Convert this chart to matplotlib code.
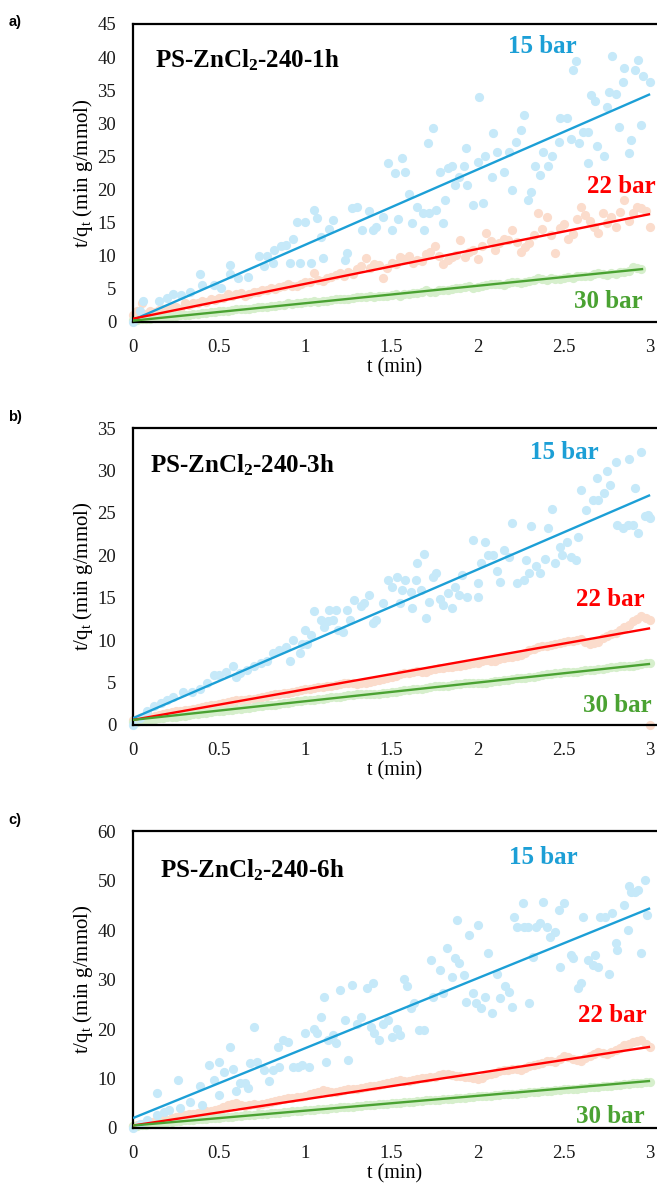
import matplotlib
matplotlib.use("Agg")
import matplotlib.pyplot as plt
from matplotlib.ticker import FuncFormatter


plt.rcParams["font.family"] = ["Liberation Serif", "DejaVu Serif"]
plt.rcParams["mathtext.fontset"] = "custom"
plt.rcParams["mathtext.rm"] = "Liberation Serif"
plt.rcParams["mathtext.it"] = "Liberation Serif:italic"
plt.rcParams["mathtext.bf"] = "Liberation Serif:bold"

# colores de las series (15, 22 y 30 bar)
AZUL, AZUL_CLARO = "#1c9fd6", "#c6e9f9"
ROJO, ROJO_CLARO = "#ff0000", "#fbdccc"
VERDE, VERDE_CLARO = "#4aa232", "#d6efcc"

# mallas de tiempo (min) de las series de 22 y 30 bar
T_MALLA = [0.00, 0.05, 0.10, 0.15, 0.20, 0.25, 0.30, 0.35, 0.40, 0.45,
           0.50, 0.55, 0.60, 0.65, 0.70, 0.75, 0.80, 0.85, 0.90, 0.95,
           1.00, 1.05, 1.10, 1.15, 1.20, 1.25, 1.30, 1.35, 1.40, 1.45,
           1.50, 1.55, 1.60, 1.65, 1.70, 1.75, 1.80, 1.85, 1.90, 1.95,
           2.00, 2.05, 2.10, 2.15, 2.20, 2.25, 2.30, 2.35, 2.40, 2.45,
           2.50, 2.55, 2.60, 2.65, 2.70, 2.75, 2.80, 2.85, 2.90, 2.95, 3.00]
T_MEDIA = [0.025, 0.075, 0.125, 0.175, 0.225, 0.275, 0.325, 0.375, 0.425, 0.475,
           0.525, 0.575, 0.625, 0.675, 0.725, 0.775, 0.825, 0.875, 0.925, 0.975,
           1.025, 1.075, 1.125, 1.175, 1.225, 1.275, 1.325, 1.375, 1.425, 1.475,
           1.525, 1.575, 1.625, 1.675, 1.725, 1.775, 1.825, 1.875, 1.925, 1.975,
           2.025, 2.075, 2.125, 2.175, 2.225, 2.275, 2.325, 2.375, 2.425, 2.475,
           2.525, 2.575, 2.625, 2.675, 2.725, 2.775, 2.825, 2.875, 2.925, 2.975]

# ---------------- a) PS-ZnCl2-240-1h ----------------
T15_A = [0.00, 0.04, 0.06, 0.15, 0.20, 0.23, 0.28, 0.33, 0.39, 0.40,
         0.47, 0.51, 0.56, 0.56, 0.61, 0.67, 0.73, 0.76, 0.78, 0.81,
         0.82, 0.86, 0.89, 0.91, 0.93, 0.95, 0.97, 1.00, 1.03, 1.05,
         1.07, 1.09, 1.10, 1.14,
         1.16, 1.23, 1.24, 1.27, 1.30, 1.33, 1.37, 1.39, 1.41, 1.45,
         1.48, 1.50, 1.52, 1.54, 1.56, 1.58, 1.60, 1.62, 1.65, 1.68,
         1.69, 1.71, 1.72, 1.74, 1.76, 1.78, 1.80, 1.81, 1.83, 1.85,
         1.87, 1.89, 1.92, 1.93, 1.94, 1.97, 2.00, 2.01, 2.03, 2.04,
         2.08, 2.09, 2.11, 2.15, 2.18, 2.20, 2.22, 2.25, 2.27, 2.29,
         2.31, 2.33, 2.36, 2.38, 2.41, 2.43, 2.47, 2.48, 2.52, 2.54,
         2.55, 2.57, 2.59, 2.61, 2.64, 2.64, 2.66, 2.68, 2.69, 2.73,
         2.75, 2.76, 2.78, 2.80, 2.82, 2.84, 2.85, 2.88, 2.89, 2.91,
         2.93, 2.95, 2.96, 3.00]
Y15_A = [0.0, 1.6, 3.1, 3.1, 3.6, 4.3, 4.1, 4.6, 7.3, 5.6,
         5.6, 5.1, 8.6, 7.3, 6.6, 6.8, 9.9, 8.4, 9.9, 8.9,
         10.9, 11.4, 11.6, 8.9, 12.6, 15.1, 8.9, 15.1, 8.9, 16.9,
         15.7, 12.9, 9.6, 14.1,
         15.4, 9.4, 10.4, 17.2, 17.4, 13.9, 16.7, 13.9, 14.4, 15.9,
         24.0, 13.9, 22.5, 15.6, 24.7, 22.7, 19.4, 14.9, 17.4, 16.4,
         13.9, 27.0, 16.4, 29.3, 16.9, 22.7, 14.9, 18.4, 23.2, 23.5,
         20.7, 21.9, 23.5, 26.2, 20.7, 17.7, 24.2, 33.9, 17.9, 25.0,
         21.9, 28.5, 25.7, 22.7, 25.7, 19.9, 27.2, 29.0, 31.3, 18.4,
         19.7, 23.5, 22.2, 25.7, 23.5, 25.0, 27.2, 30.8, 30.8, 27.7,
         38.1, 39.4, 27.0, 28.7, 28.7, 24.0, 34.3, 33.3, 26.5, 25.0,
         32.5, 34.8, 40.1, 34.5, 29.5, 36.3, 38.3, 25.5, 27.5, 38.1,
         39.6, 29.8, 37.1, 36.2]
Y22_A = [1.0, 2.8, 1.6, 1.8, 2.0, 2.3, 2.9, 2.8, 3.2, 3.5,
         3.6, 4.2, 4.3, 4.0, 4.6, 4.9, 5.2, 5.3, 5.7, 5.4,
         6.0, 7.4, 6.2, 6.8, 7.4, 7.6, 8.0, 9.6, 8.8, 6.6,
         8.9, 9.8, 10.0, 9.4, 10.2, 11.4, 8.8, 9.8, 12.4, 10.6,
         9.5, 13.4, 10.8, 12.6, 13.9, 10.6, 12.0, 16.4, 15.8, 10.4,
         14.8, 13.3, 17.4, 15.2, 13.5, 15.0, 14.4, 18.4, 16.5, 17.2, 14.4]
Y22_A_MEDIA = [1.6, 1.2, 1.5, 1.9, 2.2, 2.0, 2.6, 2.9, 3.0, 3.3,
               3.6, 3.9, 4.4, 4.3, 4.5, 4.8, 5.0, 5.5, 5.4, 5.8,
               6.0, 6.4, 6.6, 7.1, 7.0, 7.2, 8.4, 8.1, 8.6, 8.2,
               8.7, 9.5, 8.9, 9.2, 10.6, 9.9, 9.4, 10.1, 9.8, 10.8,
               11.5, 12.3, 11.9, 12.4, 12.1, 11.3, 13.2, 14.0, 13.1, 14.2,
               12.5, 15.6, 16.2, 14.4, 16.4, 15.8, 16.6, 15.3, 17.3, 16.8]
Y30_A = [0.3, 0.4, 0.5, 0.7, 0.8, 0.9, 1.0, 1.2, 1.3, 1.5,
         1.6, 1.7, 1.9, 2.0, 2.1, 2.3, 2.4, 2.5, 2.8, 2.8,
         3.0, 3.2, 3.1, 3.3, 3.5, 3.4, 3.7, 3.8, 3.7, 4.0,
         4.1, 4.0, 4.3, 4.4, 4.8, 4.6, 4.9, 5.0, 5.2, 5.5,
         5.3, 5.6, 5.8, 5.6, 6.0, 5.9, 6.2, 6.7, 6.4, 6.5,
         6.7, 6.6, 6.9, 7.0, 7.4, 7.1, 7.3, 7.6, 8.3, 8.0]
Y30_A_MEDIA = [0.3, 0.5, 0.6, 0.7, 0.9, 1.0, 1.1, 1.2, 1.4, 1.5,
               1.6, 1.8, 1.9, 2.0, 2.2, 2.3, 2.4, 2.6, 2.7, 2.9,
               3.0, 3.0, 3.2, 3.4, 3.4, 3.6, 3.7, 3.9, 3.9, 4.0,
               4.2, 4.2, 4.4, 4.6, 4.6, 4.8, 4.9, 5.1, 5.3, 5.2,
               5.5, 5.7, 5.7, 5.9, 6.0, 6.1, 6.3, 6.5, 6.6, 6.5,
               6.8, 6.9, 7.0, 7.2, 7.2, 7.4, 7.5, 7.7, 8.1]
# rectas de ajuste: (t inicial, t final), (y inicial, y final)
AJUSTE_A = {"15": ([0.0, 3.0], [0.3, 34.4]),
            "22": ([0.0, 3.0], [0.5, 16.3]),
            "30": ([0.0, 2.96], [0.2, 8.0])}

# ---------------- b) PS-ZnCl2-240-3h ----------------
T15_B = [0.00, 0.04, 0.08, 0.12, 0.16, 0.20, 0.23, 0.29, 0.34, 0.39,
         0.43, 0.47, 0.50, 0.54, 0.58, 0.60, 0.62, 0.66, 0.70, 0.74,
         0.78, 0.81, 0.85, 0.89, 0.91, 0.93, 0.97, 0.98, 1.01, 1.00,
         1.03, 1.05, 1.09, 1.11, 1.13, 1.14,
         1.16, 1.18, 1.19, 1.22, 1.24, 1.26, 1.28, 1.32, 1.34, 1.37,
         1.39, 1.41, 1.45, 1.48, 1.50, 1.53, 1.55, 1.56, 1.58, 1.61,
         1.62, 1.64, 1.65, 1.67, 1.69, 1.70, 1.72, 1.74, 1.76, 1.78,
         1.80, 1.83, 1.85, 1.87, 1.89, 1.91, 1.94, 1.97, 2.00, 2.00,
         2.02, 2.04, 2.06, 2.09, 2.11, 2.13, 2.15, 2.18, 2.20, 2.23,
         2.27, 2.28, 2.30, 2.31, 2.34, 2.36, 2.39, 2.41, 2.43, 2.45,
         2.48, 2.49, 2.52, 2.54, 2.57, 2.58, 2.60, 2.63, 2.67, 2.69,
         2.70, 2.73, 2.75, 2.77, 2.80, 2.81, 2.84, 2.87, 2.88, 2.90,
         2.91, 2.93, 2.95, 2.97, 2.99, 3.00]
Y15_B = [0.0, 0.8, 1.6, 2.2, 2.6, 3.0, 3.3, 3.9, 3.9, 4.3,
         4.9, 5.9, 5.9, 6.3, 6.9, 5.7, 6.1, 6.5, 6.9, 7.3,
         7.5, 8.5, 8.8, 9.2, 7.5, 10.0, 8.5, 9.6, 9.6, 11.2,
         10.6, 13.4, 12.4, 11.6, 12.2, 13.6,
         12.4, 13.6, 11.2, 11.0, 13.6, 12.4, 14.7, 14.0, 14.4, 15.3,
         12.0, 12.4, 14.4, 17.1, 16.3, 17.5, 14.4, 15.9, 17.1, 15.7,
         13.8, 17.1, 19.1, 15.9, 20.2, 12.6, 14.5, 17.5, 17.9, 14.9,
         14.1, 15.5, 13.8, 16.3, 15.3, 17.7, 15.1, 21.8, 15.1, 16.7,
         19.1, 21.6, 20.0, 20.0, 18.1, 16.9, 20.6, 19.8, 23.8, 16.7,
         17.1, 19.4, 17.9, 23.4, 18.7, 17.9, 19.6, 23.2, 25.5, 19.1,
         21.0, 20.0, 21.6, 19.8, 19.4, 22.2, 27.7, 25.3, 26.5, 29.1,
         26.5, 27.3, 29.9, 28.3, 31.0, 23.6, 23.2, 23.6, 31.4, 23.6,
         27.9, 22.6, 32.2, 24.6, 24.8, 24.4]
Y22_B = [0.6, 0.9, 1.0, 1.2, 1.4, 1.6, 1.8, 1.9, 2.1, 2.4,
         2.5, 2.7, 2.9, 3.0, 3.1, 3.3, 3.5, 3.6, 3.8, 4.0,
         4.2, 4.4, 4.5, 4.6, 4.8, 4.9, 4.8, 5.0, 5.2, 5.4,
         5.6, 6.0, 6.1, 6.4, 6.3, 6.6, 6.7, 6.8, 6.9, 7.2,
         7.3, 7.7, 7.6, 7.9, 8.0, 8.2, 8.8, 9.2, 9.3, 9.6,
         9.8, 9.9, 10.1, 9.6, 9.8, 10.5, 10.8, 11.5, 12.2, 12.8, 12.4]
Y22_B_MEDIA = [0.7, 0.9, 1.1, 1.3, 1.5, 1.7, 1.8, 2.0, 2.2, 2.4,
               2.6, 2.8, 2.9, 3.1, 3.2, 3.4, 3.6, 3.8, 3.9, 4.1,
               4.3, 4.5, 4.6, 4.7, 4.9, 5.0, 5.0, 5.1, 5.3, 5.5,
               5.8, 6.1, 6.2, 6.3, 6.5, 6.7, 6.8, 6.9, 7.1, 7.3,
               7.5, 7.6, 7.8, 8.0, 8.1, 8.5, 9.0, 9.3, 9.4, 9.7,
               9.9, 10.0, 9.8, 9.7, 10.2, 10.7, 11.2, 11.8, 12.5, 12.6]
# punto aislado de 22 bar al final del ensayo
T22_B_EXTRA = [3.00]
Y22_B_EXTRA = [0.0]
Y30_B = [0.3, 0.5, 0.6, 0.8, 0.9, 1.0, 1.1, 1.3, 1.4, 1.5,
         1.6, 1.8, 1.9, 2.0, 2.1, 2.2, 2.4, 2.5, 2.6, 2.8,
         2.9, 3.0, 3.1, 3.3, 3.3, 3.5, 3.6, 3.6, 3.6, 3.8,
         3.9, 4.0, 4.1, 4.3, 4.4, 4.6, 4.6, 4.7, 4.8, 4.9,
         5.0, 5.0, 5.2, 5.3, 5.4, 5.5, 5.6, 5.8, 6.0, 6.1,
         6.2, 6.3, 6.4, 6.5, 6.6, 6.7, 6.8, 6.9, 7.0, 7.2, 7.3]
Y30_B_MEDIA = [0.4, 0.5, 0.7, 0.8, 0.9, 1.1, 1.2, 1.3, 1.4, 1.6,
               1.7, 1.8, 1.9, 2.0, 2.2, 2.3, 2.4, 2.6, 2.7, 2.8,
               2.9, 3.1, 3.2, 3.3, 3.4, 3.5, 3.6, 3.6, 3.7, 3.8,
               3.9, 4.1, 4.2, 4.3, 4.5, 4.6, 4.6, 4.8, 4.9, 4.9,
               5.0, 5.1, 5.2, 5.3, 5.5, 5.5, 5.7, 5.9, 6.0, 6.1,
               6.2, 6.3, 6.5, 6.5, 6.6, 6.8, 6.9, 7.0, 7.1, 7.3]
AJUSTE_B = {"15": ([0.0, 3.0], [0.8, 27.1]),
            "22": ([0.0, 3.0], [0.6, 11.4]),
            "30": ([0.0, 3.0], [0.6, 7.2])}

# ---------------- c) PS-ZnCl2-240-6h ----------------
T15_C = [0.00, 0.04, 0.08, 0.14, 0.14, 0.18, 0.21, 0.26, 0.27, 0.33,
         0.39, 0.40, 0.44, 0.47, 0.50, 0.50, 0.53, 0.56, 0.58, 0.60,
         0.62, 0.65, 0.67, 0.68, 0.70, 0.72, 0.76, 0.79, 0.81, 0.84,
         0.85, 0.87, 0.90, 0.93, 0.96, 0.98, 1.00, 1.02, 1.05, 1.07,
         1.09, 1.11, 1.12, 1.13,
         1.16, 1.18, 1.20, 1.23, 1.25, 1.27, 1.30, 1.32, 1.36, 1.38,
         1.39, 1.40, 1.43, 1.45, 1.48, 1.50, 1.53, 1.55, 1.57, 1.59,
         1.61, 1.63, 1.66, 1.69, 1.73, 1.74, 1.78, 1.80, 1.82, 1.85,
         1.87, 1.89, 1.88, 1.92, 1.93, 1.95, 1.97, 1.99, 2.00, 2.02,
         2.04, 2.06, 2.08, 2.11, 2.13, 2.16, 2.18, 2.20, 2.21, 2.23,
         2.26, 2.27, 2.29, 2.30, 2.32, 2.34, 2.36, 2.38, 2.40, 2.42,
         2.45, 2.47, 2.48, 2.50, 2.54, 2.55, 2.58, 2.60, 2.61, 2.64,
         2.67, 2.68, 2.70, 2.71, 2.74, 2.76, 2.78, 2.80, 2.81, 2.85,
         2.87, 2.88, 2.89, 2.91, 2.93, 2.95, 2.97, 2.98]
Y15_C = [0.0, 0.9, 1.6, 7.0, 2.6, 3.3, 3.6, 9.7, 4.0, 5.3,
         8.4, 4.6, 12.7, 9.7, 13.4, 6.7, 11.4, 16.4, 12.0, 7.4,
         9.0, 9.0, 8.0, 13.1, 20.5, 13.4, 11.7, 9.4, 11.7, 16.4,
         12.4, 17.8, 17.4, 12.4, 12.4, 12.7, 19.1, 12.4, 20.1, 19.1,
         22.5, 26.5, 13.4, 17.8,
         18.8, 17.1, 27.9, 21.8, 13.7, 28.9, 21.1, 22.5, 28.2, 20.5,
         29.2, 19.1, 17.8, 21.1, 21.8, 18.4, 20.1, 18.8, 30.2, 28.6,
         24.2, 25.2, 19.8, 19.8, 33.9, 26.5, 31.9, 27.2, 36.3, 30.6,
         34.3, 33.3, 42.0, 30.9, 25.5, 39.0, 27.2, 25.2, 41.0, 24.2,
         26.5, 35.3, 23.2, 31.2, 26.2, 28.6, 27.5, 24.5, 42.7, 40.7,
         45.4, 40.7, 40.7, 25.2, 34.6, 40.7, 41.4, 45.7, 40.7, 38.6,
         39.7, 44.0, 32.6, 45.4, 35.0, 34.3, 28.2, 29.2, 42.7, 33.9,
         32.9, 35.0, 32.6, 42.7, 42.7, 31.2, 43.4, 37.3, 36.0, 45.1,
         40.0, 48.8, 47.7, 47.7, 48.1, 35.3, 50.1, 43.0]
Y22_C = [0.5, 0.9, 1.2, 1.5, 1.7, 2.2, 2.6, 2.9, 3.2, 3.5,
         3.8, 4.6, 5.0, 4.5, 4.8, 4.9, 5.2, 5.6, 6.0, 6.2,
         6.5, 7.0, 7.6, 7.2, 7.5, 7.9, 7.8, 8.3, 8.5, 8.9,
         9.2, 9.6, 9.5, 9.8, 10.1, 10.4, 11.0, 10.7, 10.6, 10.3,
         9.8, 10.8, 11.2, 11.7, 12.0, 11.8, 12.5, 13.0, 13.5, 13.4,
         14.6, 14.0, 13.6, 14.5, 15.4, 15.0, 15.8, 16.7, 17.4, 17.8, 16.4]
Y22_C_MEDIA = [0.7, 1.1, 1.4, 1.6, 2.0, 2.4, 2.8, 3.0, 3.4, 3.6,
               4.3, 4.9, 4.7, 4.6, 4.7, 5.1, 5.4, 5.8, 6.1, 6.3,
               6.8, 7.3, 7.4, 7.3, 7.7, 7.8, 8.1, 8.4, 8.7, 9.0,
               9.4, 9.5, 9.6, 10.0, 10.3, 10.7, 10.9, 10.6, 10.4, 10.1,
               10.2, 11.0, 11.5, 11.8, 11.9, 12.2, 12.8, 13.2, 13.5, 14.0,
               14.3, 13.8, 14.1, 15.0, 15.2, 15.4, 16.2, 17.0, 17.6, 17.0]
Y30_C = [0.4, 0.6, 0.8, 1.0, 1.2, 1.4, 1.6, 1.7, 1.9, 2.0,
         2.1, 2.3, 2.4, 2.6, 2.7, 2.9, 3.0, 3.1, 3.3, 3.5,
         3.6, 3.7, 3.9, 4.0, 4.2, 4.3, 4.4, 4.6, 4.7, 4.9,
         5.0, 5.1, 5.3, 5.4, 5.6, 5.7, 5.8, 5.9, 6.1, 6.2,
         6.4, 6.5, 6.6, 6.8, 6.9, 7.0, 7.2, 7.3, 7.5, 7.6,
         7.8, 7.9, 8.0, 8.2, 8.3, 8.5, 8.6, 8.8, 9.0, 9.1, 9.3]
Y30_C_MEDIA = [0.5, 0.7, 0.9, 1.1, 1.3, 1.5, 1.6, 1.8, 1.9, 2.0,
               2.2, 2.3, 2.5, 2.6, 2.8, 2.9, 3.0, 3.2, 3.4, 3.5,
               3.6, 3.8, 3.9, 4.1, 4.2, 4.3, 4.5, 4.6, 4.8, 4.9,
               5.0, 5.2, 5.3, 5.5, 5.6, 5.7, 5.8, 6.0, 6.1, 6.3,
               6.4, 6.5, 6.7, 6.8, 6.9, 7.1, 7.2, 7.4, 7.5, 7.7,
               7.8, 7.9, 8.1, 8.2, 8.4, 8.5, 8.7, 8.9, 9.0, 9.2]
AJUSTE_C = {"15": ([0.0, 3.0], [2.0, 44.4]),
            "22": ([0.0, 3.0], [0.5, 16.4]),
            "30": ([0.0, 3.0], [0.5, 9.5])}


def dibujar_panel(ax, titulo, ymax, paso, puntos, ajuste, etiquetas, pos_titulo):
    """
    Dibuja un panel t/qt vs t con los puntos experimentales y las rectas de ajuste.
    @param puntos: lista de (t, y, color) en orden de dibujo
    @param ajuste: diccionario con las rectas de 15, 22 y 30 bar
    @param etiquetas: posiciones (fraccion de ejes) de los textos de presion
    """
    for t, y, color in puntos:
        ax.scatter(t, y, s=44, color=color, linewidths=0, zorder=2, clip_on=False)

    for clave, color in (("15", AZUL), ("22", ROJO), ("30", VERDE)):
        tx, ty = ajuste[clave]
        ax.plot(tx, ty, color=color, lw=1.7, zorder=3, solid_capstyle="butt")

    ax.set_xlim(0, 3.04)
    ax.set_ylim(0, ymax)
    ax.set_xticks([0, 0.5, 1, 1.5, 2, 2.5, 3])
    ax.set_yticks(list(range(0, ymax + 1, paso)))
    ax.xaxis.set_major_formatter(FuncFormatter(lambda v, p: "%g" % v))
    ax.tick_params(length=0, labelsize=13.5, colors="#1a1a1a")
    ax.tick_params(axis="x", pad=12)
    ax.tick_params(axis="y", pad=12)

    for lado in ("left", "top", "bottom"):
        ax.spines[lado].set_linewidth(1.6)
        ax.spines[lado].set_color("black")
    ax.spines["right"].set_visible(False)

    ax.set_xlabel("t (min)", fontsize=14.5, labelpad=2)
    ax.set_ylabel(r"t/q$_\mathrm{t}$ (min g/mmol)", fontsize=15)
    ax.yaxis.set_label_coords(-0.072, 0.5)

    ax.text(pos_titulo[0], pos_titulo[1], titulo, transform=ax.transAxes,
            fontsize=18, fontweight="bold", ha="left", va="center")

    for (texto, color), (x, y) in zip((("15 bar", AZUL), ("22 bar", ROJO), ("30 bar", VERDE)), etiquetas):
        ax.text(x, y, texto, transform=ax.transAxes, color=color,
                fontsize=18, fontweight="bold", ha="center", va="center")


fig = plt.figure(figsize=(6.57, 11.93), dpi=100)

ax_a = fig.add_axes([0.2024, 0.7301, 0.7976, 0.2498])
ax_b = fig.add_axes([0.2024, 0.3923, 0.7976, 0.2489])
ax_c = fig.add_axes([0.2024, 0.0545, 0.7976, 0.2489])

dibujar_panel(ax_a, r"PS-ZnCl$_\mathbf{2}$-240-1h", 45, 5,
              [(T_MALLA, Y22_A, ROJO_CLARO), (T_MEDIA, Y22_A_MEDIA, ROJO_CLARO),
               (T_MALLA[:60], Y30_A, VERDE_CLARO), (T_MEDIA[:59], Y30_A_MEDIA, VERDE_CLARO),
               (T15_A, Y15_A, AZUL_CLARO)],
              AJUSTE_A, [(0.782, 0.925), (0.931, 0.453), (0.908, 0.07)], (0.042, 0.879))
dibujar_panel(ax_b, r"PS-ZnCl$_\mathbf{2}$-240-3h", 35, 5,
              [(T_MALLA, Y22_B, ROJO_CLARO), (T_MEDIA, Y22_B_MEDIA, ROJO_CLARO),
               (T22_B_EXTRA, Y22_B_EXTRA, ROJO_CLARO),
               (T_MALLA, Y30_B, VERDE_CLARO), (T_MEDIA, Y30_B_MEDIA, VERDE_CLARO),
               (T15_B, Y15_B, AZUL_CLARO)],
              AJUSTE_B, [(0.823, 0.916), (0.91, 0.421), (0.924, 0.067)], (0.032, 0.875))
dibujar_panel(ax_c, r"PS-ZnCl$_\mathbf{2}$-240-6h", 60, 10,
              [(T_MALLA, Y22_C, ROJO_CLARO), (T_MEDIA, Y22_C_MEDIA, ROJO_CLARO),
               (T_MALLA, Y30_C, VERDE_CLARO), (T_MEDIA, Y30_C_MEDIA, VERDE_CLARO),
               (T15_C, Y15_C, AZUL_CLARO)],
              AJUSTE_C, [(0.784, 0.912), (0.914, 0.38), (0.91, 0.04)], (0.052, 0.869))

for letra, y in (("a)", 0.9815), ("b)", 0.6505), ("c)", 0.3125)):
    fig.text(0.013, y, letra, fontsize=10.5, fontweight="bold", family=["Liberation Sans", "DejaVu Sans"],
             ha="left", va="center")

fig.savefig("out.png", dpi=100)
